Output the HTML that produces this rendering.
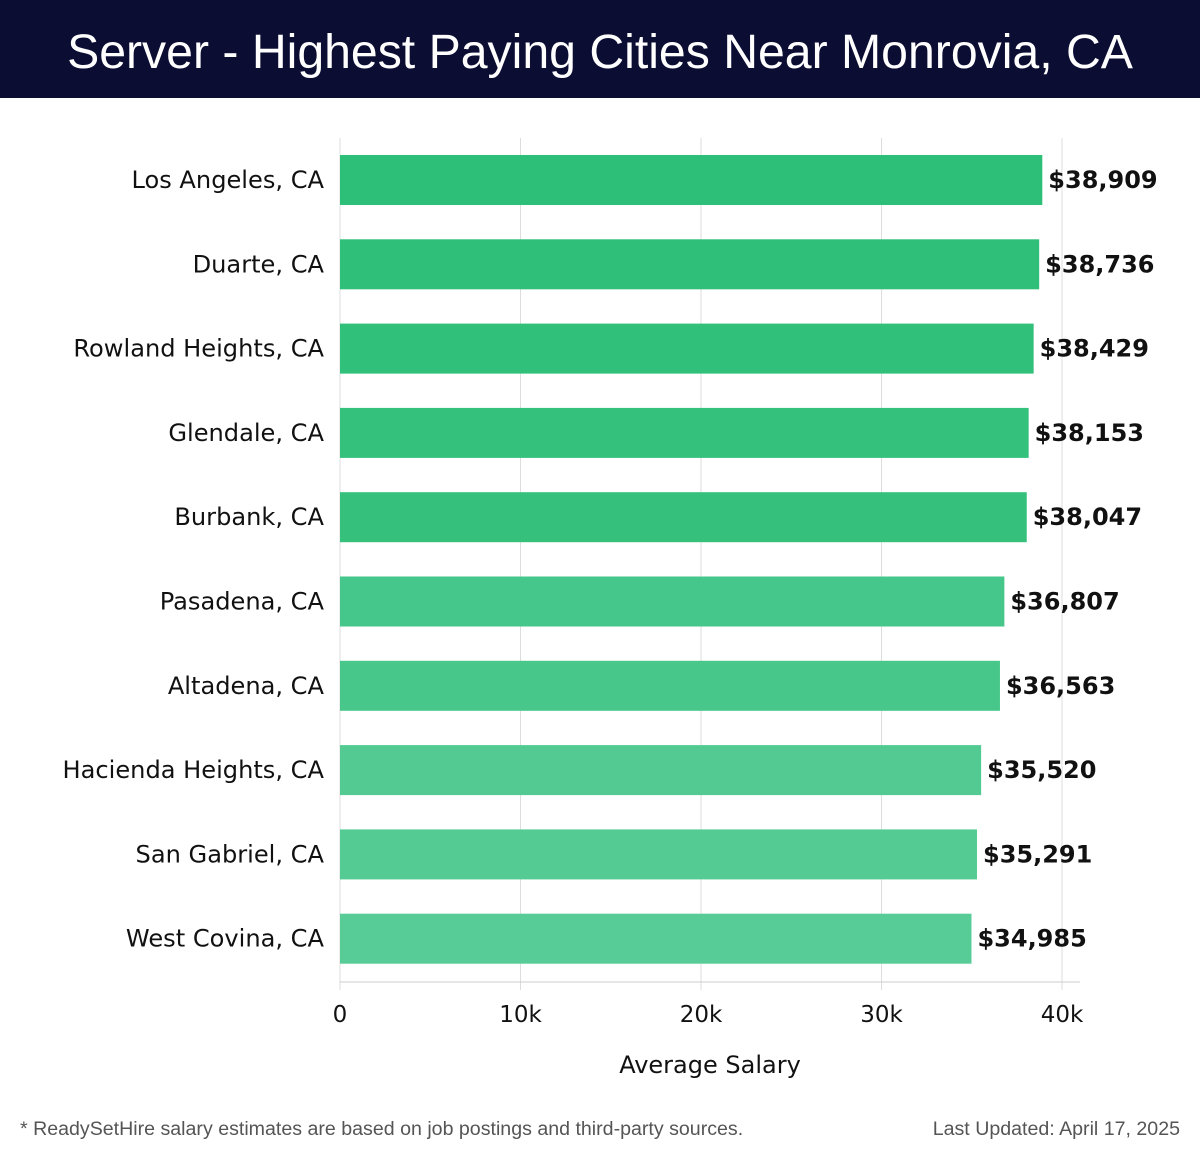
<!DOCTYPE html>
<html><head><meta charset="utf-8"><style>
body{margin:0;width:1200px;height:1158px;background:#fff;overflow:hidden;font-family:"DejaVu Sans","Liberation Sans",sans-serif}
#hdr{position:absolute;left:0;top:0;width:1200px;height:98px;background:#0b0d33;color:#fff;font-family:"Liberation Sans",sans-serif;font-size:48.2px;text-align:center;line-height:104px}
.foot{position:absolute;top:1118px;font-family:"Liberation Sans",sans-serif;font-size:19.6px;color:#555}
</style></head><body>
<div id="hdr">Server - Highest Paying Cities Near Monrovia, CA</div>
<svg id="chart" width="1200" height="1158" style="position:absolute;left:0;top:0"></svg>
<div class="foot" style="left:20px">* ReadySetHire salary estimates are based on job postings and third-party sources.</div>
<div class="foot" style="right:20px">Last Updated: April 17, 2025</div>
<script>
const categories=["Los Angeles, CA","Duarte, CA","Rowland Heights, CA","Glendale, CA","Burbank, CA","Pasadena, CA","Altadena, CA","Hacienda Heights, CA","San Gabriel, CA","West Covina, CA"];
const values=[38909,38736,38429,38153,38047,36807,36563,35520,35291,34985];
const ticks=[0,10000,20000,30000,40000];
const tickLabels=["0","10k","20k","30k","40k"];
const NS="http://www.w3.org/2000/svg",svg=document.getElementById('chart');
const x0=340,x1=1062,plotTop=138,axisY=982,pitch=84.3,bh=50;
const xs=v=>x0+(v/40000)*(x1-x0);
const ys=i=>155+i*pitch;
function mk(t,a){const e=document.createElementNS(NS,t);for(const k in a)e.setAttribute(k,a[k]);svg.appendChild(e);return e;}
ticks.forEach((t,i)=>{
 const g=mk('line',{x1:xs(t),x2:xs(t),y1:plotTop,y2:990,stroke:'#ddd','stroke-width':1});
 
 
 const l=mk('text',{x:xs(t),y:1022,'text-anchor':'middle','font-size':23,fill:'#111'});l.textContent=tickLabels[i];
 
 
});
const ax=mk('line',{x1:x0,x2:1080,y1:axisY,y2:axisY,stroke:'#ccc','stroke-width':1});


const colors=["#2dbe78","#2fbf79","#31c07a","#33c17b","#35c17c","#45c68a","#48c78b","#52ca92","#55cb94","#58cc97"];
values.forEach((v,i)=>{
 const y=ys(i);
 const r=mk('rect',{x:x0,y:y,width:xs(v)-x0,height:bh,fill:colors[i]});
 
 
 const c=mk('text',{x:324,y:y+bh/2+8,'text-anchor':'end','font-size':24.1,fill:'#111'});c.textContent=categories[i];
 
 
 const t=mk('text',{x:xs(v)+6,y:y+bh/2+8,'font-size':24,'font-weight':'bold',fill:'#111'});t.textContent='$'+v.toLocaleString('en-US');
 
 
});
const at=mk('text',{x:710,y:1073,'text-anchor':'middle','font-size':24,fill:'#111'});at.textContent='Average Salary';


</script>
</body></html>
